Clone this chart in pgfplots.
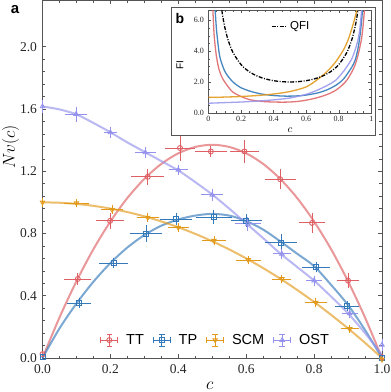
\documentclass[border=0pt]{standalone}
\usepackage{pgfplots}
\pgfplotsset{compat=1.18}
\usepackage{fontspec}
\setmainfont{Liberation Serif}
\setsansfont{Liberation Sans}

\definecolor{ttc}{RGB}{222,96,100}
\definecolor{tpc}{RGB}{52,122,186}
\definecolor{scmc}{RGB}{226,154,28}
\definecolor{ostc}{RGB}{148,146,236}
\definecolor{framec}{RGB}{85,85,85}

% measured points: c, Nv, x error, y error
\pgfplotstableread{
x y ex ey
0.000 0.025 0 0
0.104 0.508 0.032 0.02
0.199 0.881 0.034 0.035
0.310 1.164 0.040 0.034
0.405 1.349 0.035 0.064
0.496 1.327 0.040 0.02
0.595 1.327 0.034 0.054
0.700 1.149 0.037 0.048
0.794 0.868 0.030 0.045
0.900 0.497 0.023 0.03
1.000 0.005 0 0
}\ttdata
\pgfplotstableread{
x y ex ey
0.000 0.005 0 0
0.108 0.354 0.027 0.015
0.209 0.609 0.034 0.015
0.305 0.800 0.040 0.035
0.393 0.892 0.038 0.02
0.504 0.905 0.045 0.025
0.600 0.883 0.037 0.025
0.703 0.742 0.038 0.035
0.806 0.583 0.032 0.015
0.897 0.334 0.026 0.015
1.000 0.002 0 0
}\tpdata
\pgfplotstableread{
x y ex ey
0.000 1.000 0 0.012
0.100 0.995 0.028 0.01
0.205 0.952 0.025 0.01
0.310 0.902 0.024 0.01
0.400 0.838 0.022 0.01
0.505 0.754 0.028 0.01
0.606 0.630 0.028 0.01
0.705 0.508 0.020 0.01
0.805 0.356 0.025 0.01
0.905 0.187 0.018 0.01
1.000 -0.010 0 0
}\scmdata
\pgfplotstableread{
x y ex ey
0.000 1.616 0 0.025
0.099 1.567 0.025 0.03
0.200 1.449 0.012 0.015
0.303 1.320 0.023 0.015
0.400 1.209 0.020 0.015
0.500 1.048 0.024 0.02
0.605 0.862 0.030 0.025
0.705 0.669 0.018 0.015
0.800 0.497 0.015 0.015
0.905 0.287 0.015 0.015
1.000 0.084 0 0.02
}\ostdata

\pgfplotsset{
  errleg/.style={legend image code/.code={%
    \draw[##1,mark=none,solid,line width=0.8pt]
      (0pt,0pt)--(17pt,0pt) (8.5pt,-6pt)--(8.5pt,6pt)
      (0pt,-2.8pt)--(0pt,2.8pt) (17pt,-2.8pt)--(17pt,2.8pt)
      (5.7pt,6pt)--(11.3pt,6pt) (5.7pt,-6pt)--(11.3pt,-6pt);
    \draw[##1] plot coordinates {(8.5pt,0pt)};
  }},
  pts/.style={only marks, errleg, mark size=2.5pt,
    error bars/x dir=both, error bars/x explicit,
    error bars/y dir=both, error bars/y explicit,
    error bars/error bar style={line width=0.8pt},
    error bars/error mark options={line width=0.8pt, mark size=2.8pt}},
  fit/.style={line width=2pt, opacity=0.65, smooth, forget plot},
}

\begin{document}
\begin{tikzpicture}
\useasboundingbox (-42.5pt,-34pt) rectangle (348.5pt,358pt);
\begin{axis}[
  at={(0pt,0pt)}, anchor=south west,
  scale only axis, width=339.5pt, height=358pt,
  xmin=0, xmax=1, ymin=0, ymax=2.3,
  xtick={0,0.2,...,1.01}, ytick={0,0.4,...,2.01},
  minor x tick num=3, minor y tick num=4,
  tick align=inside, major tick length=4pt, minor tick length=2.5pt,
  axis line style={draw=framec, line width=0.7pt},
  tick style={draw=framec, line width=0.5pt},
  /pgf/number format/assume math mode=true,
  /pgf/number format/fixed, /pgf/number format/fixed zerofill,
  /pgf/number format/precision=1,
  ticklabel style={font=\fontsize{13.5}{14}\selectfont, text=black!85},
  xticklabel style={yshift=-3pt},
  yticklabel style={xshift=-2pt},
  xlabel={$c$}, ylabel={$Nv(c)$},
  label style={font=\fontsize{17}{18}\selectfont, inner sep=0pt},
  xlabel style={at={(axis description cs:0.493,0)}, anchor=center, yshift=-28pt},
  ylabel style={at={(axis description cs:-0.094,0.59)}, anchor=center},
  clip=false,
  legend style={at={(0.51,0.05)}, anchor=center, draw=none, fill=none,
    legend columns=4, font=\sffamily\fontsize{14.5}{15}\selectfont,
    /tikz/every odd column/.append style={column sep=6pt},
    /tikz/every even column/.append style={column sep=7pt}},
]
% theory curves
\addplot[fit, ttc] coordinates {(0,0)(0.05,0.260)(0.1,0.493)(0.15,0.699)(0.2,0.877)(0.25,1.028)(0.3,1.151)(0.35,1.247)(0.4,1.315)(0.45,1.356)(0.5,1.37)(0.55,1.356)(0.6,1.315)(0.65,1.247)(0.7,1.151)(0.75,1.028)(0.8,0.877)(0.85,0.699)(0.9,0.493)(0.95,0.260)(1,0)};
\addplot[fit, tpc] coordinates {(0,0)(0.05,0.19)(0.1,0.35)(0.15,0.49)(0.2,0.61)(0.25,0.71)(0.3,0.79)(0.35,0.85)(0.4,0.89)(0.45,0.915)(0.5,0.926)(0.55,0.915)(0.6,0.88)(0.65,0.825)(0.7,0.75)(0.75,0.67)(0.8,0.59)(0.85,0.47)(0.9,0.34)(0.95,0.18)(1,0)};
\addplot[fit, scmc] coordinates {(0,1)(0.05,0.9975)(0.1,0.99)(0.15,0.9775)(0.2,0.96)(0.25,0.9375)(0.3,0.91)(0.35,0.8775)(0.4,0.84)(0.45,0.7975)(0.5,0.75)(0.55,0.6975)(0.6,0.64)(0.65,0.5775)(0.7,0.51)(0.75,0.4375)(0.8,0.36)(0.85,0.2775)(0.9,0.19)(0.95,0.0975)(1,0)};
\addplot[fit, ostc] coordinates {(0,1.616)(0.05,1.597)(0.1,1.565)(0.15,1.51)(0.2,1.45)(0.25,1.385)(0.3,1.325)(0.35,1.265)(0.4,1.205)(0.45,1.13)(0.5,1.05)(0.55,0.96)(0.6,0.865)(0.65,0.77)(0.7,0.672)(0.75,0.585)(0.8,0.497)(0.85,0.395)(0.9,0.287)(0.95,0.16)(1,0.02)};
% measured points
\addplot[pts, ttc, mark=o, mark options={solid, fill=white, line width=0.9pt}] table[x=x, y=y, x error=ex, y error=ey] {\ttdata};
\addlegendentry{TT}
\addplot[pts, tpc, mark=square, mark options={solid, fill=white, line width=0.9pt}] table[x=x, y=y, x error=ex, y error=ey] {\tpdata};
\addlegendentry{TP}
\addplot[pts, scmc, mark=triangle, mark options={solid, fill=white, line width=0.9pt, rotate=180}] table[x=x, y=y, x error=ex, y error=ey] {\scmdata};
\addlegendentry{SCM}
\addplot[pts, ostc, mark=triangle, mark options={solid, fill=white, line width=0.9pt}] table[x=x, y=y, x error=ex, y error=ey] {\ostdata};
\addlegendentry{OST}
\end{axis}

% panel labels and inset box
\node[font=\sffamily\bfseries\fontsize{15}{15}\selectfont] at (-27.5pt,348.5pt) {a};
\draw[framec, line width=0.6pt, fill=white] (128.5pt,223pt) rectangle (333.2pt,351pt);
\node[font=\sffamily\bfseries\fontsize{14}{14}\selectfont] at (137.5pt,340pt) {b};

\begin{axis}[
  at={(166pt,245.2pt)}, anchor=south west,
  scale only axis, width=162.8pt, height=102.5pt,
  xmin=0, xmax=1, ymin=0, ymax=6.65,
  xtick={0,0.2,0.4,0.6,0.8,1}, xticklabels={0,0.2,0.4,0.6,0.8,1},
  ytick={0,2,4,6}, yticklabels={0.0,2.0,4.0,6.0},
  minor x tick num=3, minor y tick num=3,
  tick align=inside, major tick length=3pt, minor tick length=1.8pt,
  axis line style={draw=framec, line width=0.6pt},
  tick style={draw=framec, line width=0.4pt},
  ticklabel style={font=\fontsize{8}{9}\selectfont, text=black!85},
  yticklabel style={xshift=-1pt},
  xlabel={$c$}, ylabel={FI},
  xlabel style={font=\fontsize{11}{12}\selectfont, inner sep=0pt, at={(axis description cs:0.5,0)}, anchor=center, yshift=-17pt},
  ylabel style={font=\sffamily\fontsize{10}{11}\selectfont, inner sep=0pt, at={(axis description cs:-0.175,0.466)}, anchor=center},
  legend style={at={(0.382,0.845)}, anchor=west, draw=none, fill=none,
    font=\sffamily\fontsize{11.5}{12}\selectfont, inner sep=0pt},
  legend image code/.code={\draw[#1] (0pt,0pt)--(16pt,0pt);},
]
\addplot[ttc, line width=1.3pt, opacity=0.85, smooth, forget plot] coordinates {(0.022,7.0)(0.027,6.6)(0.035,5.0)(0.048,3.72)(0.065,2.8)(0.088,2.2)(0.12,1.7)(0.15,1.34)(0.2,1.06)(0.25,0.86)(0.3,0.77)(0.35,0.72)(0.4,0.70)(0.45,0.69)(0.5,0.70)(0.55,0.74)(0.6,0.82)(0.65,0.93)(0.7,1.08)(0.75,1.28)(0.78,1.45)(0.82,1.78)(0.85,2.12)(0.88,2.64)(0.9,3.1)(0.92,3.8)(0.94,4.8)(0.95,5.7)(0.958,6.7)(0.962,7.5)};
\addplot[tpc, line width=1.3pt, opacity=0.9, smooth, forget plot] coordinates {(0.036,7.0)(0.041,6.6)(0.05,5.3)(0.068,3.72)(0.09,2.95)(0.109,2.53)(0.15,2.0)(0.194,1.66)(0.25,1.42)(0.32,1.23)(0.4,1.12)(0.48,1.08)(0.55,1.1)(0.6,1.15)(0.675,1.3)(0.73,1.5)(0.78,1.77)(0.83,2.2)(0.88,2.96)(0.9,3.4)(0.915,4.0)(0.928,4.8)(0.94,5.9)(0.946,6.7)(0.95,7.3)};
\addplot[scmc, line width=1.3pt, opacity=0.9, smooth, forget plot] coordinates {(0,1.0)(0.1,1.02)(0.2,1.06)(0.3,1.12)(0.4,1.22)(0.5,1.38)(0.6,1.68)(0.675,2.2)(0.73,2.7)(0.78,3.29)(0.83,4.1)(0.86,4.8)(0.89,5.8)(0.91,6.6)(0.918,7.1)};
\addplot[ostc, line width=1.3pt, opacity=0.85, smooth, forget plot] coordinates {(0,0.62)(0.1,0.66)(0.2,0.7)(0.3,0.76)(0.4,0.84)(0.5,0.96)(0.6,1.2)(0.675,1.5)(0.73,1.78)(0.78,2.1)(0.83,2.7)(0.88,3.5)(0.91,4.4)(0.928,5.3)(0.94,6.6)(0.945,7.2)};
\addplot[black, line width=1.3pt, dash pattern=on 4pt off 1.5pt on 1pt off 1.5pt, smooth] coordinates {(0.07,7.68)(0.08,6.79)(0.09,6.11)(0.1,5.556)(0.12,4.735)(0.15,3.922)(0.2,3.125)(0.25,2.667)(0.3,2.381)(0.35,2.198)(0.4,2.083)(0.45,2.020)(0.5,2.0)(0.55,2.020)(0.6,2.083)(0.65,2.198)(0.7,2.381)(0.75,2.667)(0.8,3.125)(0.85,3.922)(0.88,4.735)(0.9,5.556)(0.91,6.11)(0.92,6.79)(0.93,7.68)};
\addlegendentry{QFI}
\end{axis}
\end{tikzpicture}
\end{document}
